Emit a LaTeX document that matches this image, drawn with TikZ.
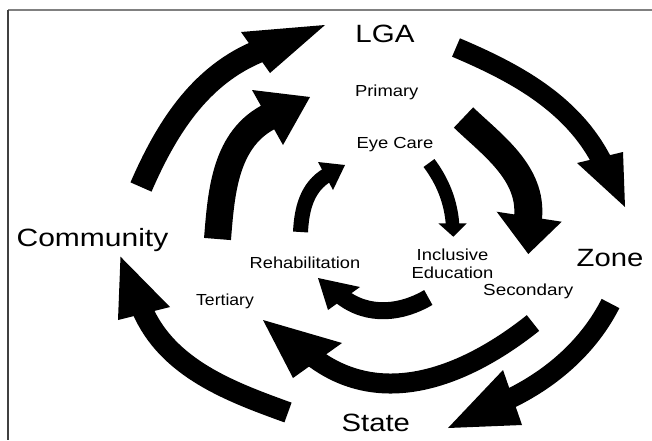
\documentclass[tikz,border=0pt]{standalone}
\usepackage{fontspec}
\setmainfont{Liberation Sans}
\definecolor{frametop}{RGB}{128,128,128}
\definecolor{frameleft}{RGB}{64,64,64}
\begin{document}
\begin{tikzpicture}[x=1pt,y=-1pt,
  outerlabel/.style={font=\fontsize{25}{30}\selectfont, inner sep=0pt, anchor=base},
  innerlabel/.style={font=\fontsize{16}{19}\selectfont, inner sep=0pt, anchor=base},
  shaftline/.style={line width=#1, line cap=butt, draw=black},
  headtri/.style={fill=black}]
\useasboundingbox (0,0) rectangle (652,440);
\fill[white] (0,0) rectangle (652,440);
% frame
\draw[frametop, line width=1.5pt] (8,10) -- (652,10);
\draw[frameleft, line width=1.5pt] (8,10) -- (8,440);

% labels
\node[outerlabel] (lga) at (385,42) {\scalebox{1.18}[1]{LGA}};
\node[outerlabel] (zone) at (610,266.7) {\scalebox{1.17}[1]{Zone}};
\node[outerlabel] (state) at (375.8,431.7) {\scalebox{1.17}[1]{State}};
\node[outerlabel] (community) at (92.5,246.7) {\scalebox{1.2}[1]{Community}};
\node[innerlabel] (primary) at (386.7,96.7) {\scalebox{1.15}[1]{Primary}};
\node[innerlabel] (eyecare) at (395,148.3) {\scalebox{1.15}[1]{Eye Care}};
\node[innerlabel] (inclusive) at (452.5,260) {\scalebox{1.15}[1]{Inclusive}};
\node[innerlabel] (education) at (452.5,278.3) {\scalebox{1.15}[1]{Education}};
\node[innerlabel] (secondary) at (528.3,295) {\scalebox{1.18}[1]{Secondary}};
\node[innerlabel] (rehab) at (305,268.3) {\scalebox{1.14}[1]{Rehabilitation}};
\node[innerlabel] (tertiary) at (225,305) {\scalebox{1.1}[1]{Tertiary}};

% ---- outer ring ----
% Community -> LGA
\coordinate (otlT) at (141,187);
\coordinate (otlB) at (260.2,50.7);
\coordinate (otlP) at (325,25);
\coordinate (otlL) at (241,32);
\coordinate (otlR) at (270,73);
\draw[shaftline=23pt] (otlT) .. controls (165.4,130.9) and (198.8,75.1) .. (otlB);
\fill[headtri] (otlP) -- (otlL) -- (otlR) -- cycle;

% LGA -> Zone
\coordinate (otrT) at (456,47.5);
\coordinate (otrB) at (602.3,162);
\coordinate (otrP) at (625,207);
\coordinate (otrL) at (577,163);
\coordinate (otrR) at (623,152);
\draw[shaftline=20pt] (otrT) .. controls (513,71.7) and (572,102.3) .. (otrB);
\fill[headtri] (otrP) -- (otrL) -- (otrR) -- cycle;

% Zone -> State
\coordinate (obrT) at (610.5,303.5);
\coordinate (obrB) at (508,399.6);
\coordinate (obrP) at (448,428);
\coordinate (obrL) at (503,370);
\coordinate (obrR) at (522,425);
\draw[shaftline=20pt] (obrT) .. controls (589.8,344.4) and (553.9,377.7) .. (obrB);
\fill[headtri] (obrP) -- (obrL) -- (obrR) -- cycle;

% State -> Community
\coordinate (oblT) at (288,412.5);
\coordinate (oblB) at (142,308.9);
\coordinate (oblP) at (120.5,256.7);
\coordinate (oblL) at (118,320);
\coordinate (oblR) at (170,307);
\draw[shaftline=21pt] (oblT) .. controls (231.6,392.1) and (167.4,368.7) .. (oblB);
\fill[headtri] (oblP) -- (oblL) -- (oblR) -- cycle;

% ---- middle ring ----
% Tertiary side -> Primary
\coordinate (mlT) at (217.5,239);
\coordinate (mlB) at (271.7,115.4);
\coordinate (mlP) at (310,97);
\coordinate (mlL) at (252,90);
\coordinate (mlR) at (283,145);
\draw[shaftline=27pt] (mlT) .. controls (221.3,192) and (224.9,137.7) .. (mlB);
\fill[headtri] (mlP) -- (mlL) -- (mlR) -- cycle;

% Primary -> Secondary
\coordinate (mrT) at (463.5,117.5);
\coordinate (mrB) at (528,218);
\coordinate (mrP) at (528.3,254);
\coordinate (mrL) at (496.7,211.7);
\coordinate (mrR) at (561.7,221.7);
\draw[shaftline=28pt] (mrT) .. controls (492.3,145.1) and (532.5,173.2) .. (mrB);
\fill[headtri] (mrP) -- (mrL) -- (mrR) -- cycle;

% Secondary -> Tertiary
\coordinate (mbT) at (533,323);
\coordinate (mbB) at (313.5,357.5);
\coordinate (mbP) at (263,320);
\coordinate (mbL) at (342,343);
\coordinate (mbR) at (293,378);
\draw[shaftline=20pt] (mbT) .. controls (468.3,374.5) and (383.9,410.3) .. (mbB);
\fill[headtri] (mbP) -- (mbL) -- (mbR) -- cycle;

% ---- inner ring ----
% Rehabilitation -> Eye Care
\coordinate (ilT) at (300.5,232);
\coordinate (ilB) at (328.1,174.5);
\coordinate (ilP) at (345,165);
\coordinate (ilL) at (318,162);
\coordinate (ilR) at (333,190);
\draw[shaftline=15pt] (ilT) .. controls (301.6,210) and (306.4,186.8) .. (ilB);
\fill[headtri] (ilP) -- (ilL) -- (ilR) -- cycle;

% Eye Care -> Inclusive Education
\coordinate (irT) at (429,163);
\coordinate (irB) at (452.7,226.3);
\coordinate (irP) at (453.3,236.7);
\coordinate (irL) at (438.3,223.3);
\coordinate (irR) at (466.7,223.3);
\draw[shaftline=13.5pt] (irT) .. controls (442.2,180.6) and (451.2,201.3) .. (irB);
\fill[headtri] (irP) -- (irL) -- (irR) -- cycle;

% Inclusive Education -> Rehabilitation
\coordinate (ibT) at (428.3,297.5);
\coordinate (ibB) at (340.9,296);
\coordinate (ibP) at (318,278);
\coordinate (ibL) at (360,287);
\coordinate (ibR) at (328,310);
\draw[shaftline=17pt] (ibT) .. controls (402,313) and (368.3,317.7) .. (ibB);
\fill[headtri] (ibP) -- (ibL) -- (ibR) -- cycle;
\end{tikzpicture}
\end{document}
